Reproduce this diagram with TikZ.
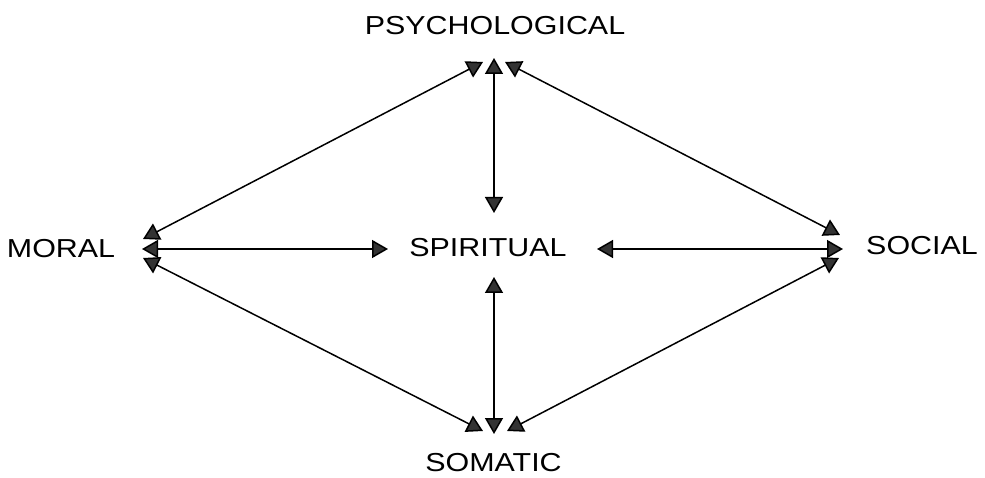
\documentclass[tikz,border=0pt]{standalone}
\usepackage{fontspec}
\setmainfont{Liberation Sans}
\usepackage{tikz}
\usetikzlibrary{arrows.meta,positioning}

\begin{document}
\begin{tikzpicture}[x=1pt,y=-1pt,
    lbl/.style={inner sep=0pt, text height=18.5pt, text depth=0pt, xscale=1.17,
        font=\fontsize{26}{30}\selectfont},
    link/.style={line width=1.5pt, {Triangle[length=16pt,width=18pt,fill=black!80]}-{Triangle[length=16pt,width=18pt,fill=black!80]}}]
    \useasboundingbox[fill=white] (0,0) rectangle (985,478);
    % 五个维度
    \node[lbl] (psych) at (495,25) {PSYCHOLOGICAL};
    \node[lbl] (moral) at (61,248.5) {MORAL};
    \node[lbl] (spirit) at (488,247) {SPIRITUAL};
    \node[lbl] (social) at (922,245) {SOCIAL};
    \node[lbl] (somatic) at (493.5,462.5) {SOMATIC};
    % 箭头端点
    \coordinate (psy-w) at (483,62);
    \coordinate (psy-s) at (494,58);
    \coordinate (psy-e) at (505,62);
    \coordinate (mor-n) at (143,239);
    \coordinate (mor-e) at (142,249);
    \coordinate (mor-s) at (143,258);
    \coordinate (spi-w) at (388,249);
    \coordinate (spi-e) at (597,249);
    \coordinate (spi-n) at (494,213);
    \coordinate (spi-s) at (494,277);
    \coordinate (soc-n) at (840,235);
    \coordinate (soc-w) at (843,249);
    \coordinate (soc-s) at (839,258);
    \coordinate (som-w) at (483,431);
    \coordinate (som-n) at (494,434);
    \coordinate (som-e) at (507,431);
    \foreach \a/\b in {mor-n/psy-w, psy-e/soc-n, mor-s/som-w, som-e/soc-s,
        mor-e/spi-w, spi-e/soc-w, psy-s/spi-n, spi-s/som-n} {
        \draw[link] (\a) -- (\b);
    }
\end{tikzpicture}
\end{document}
